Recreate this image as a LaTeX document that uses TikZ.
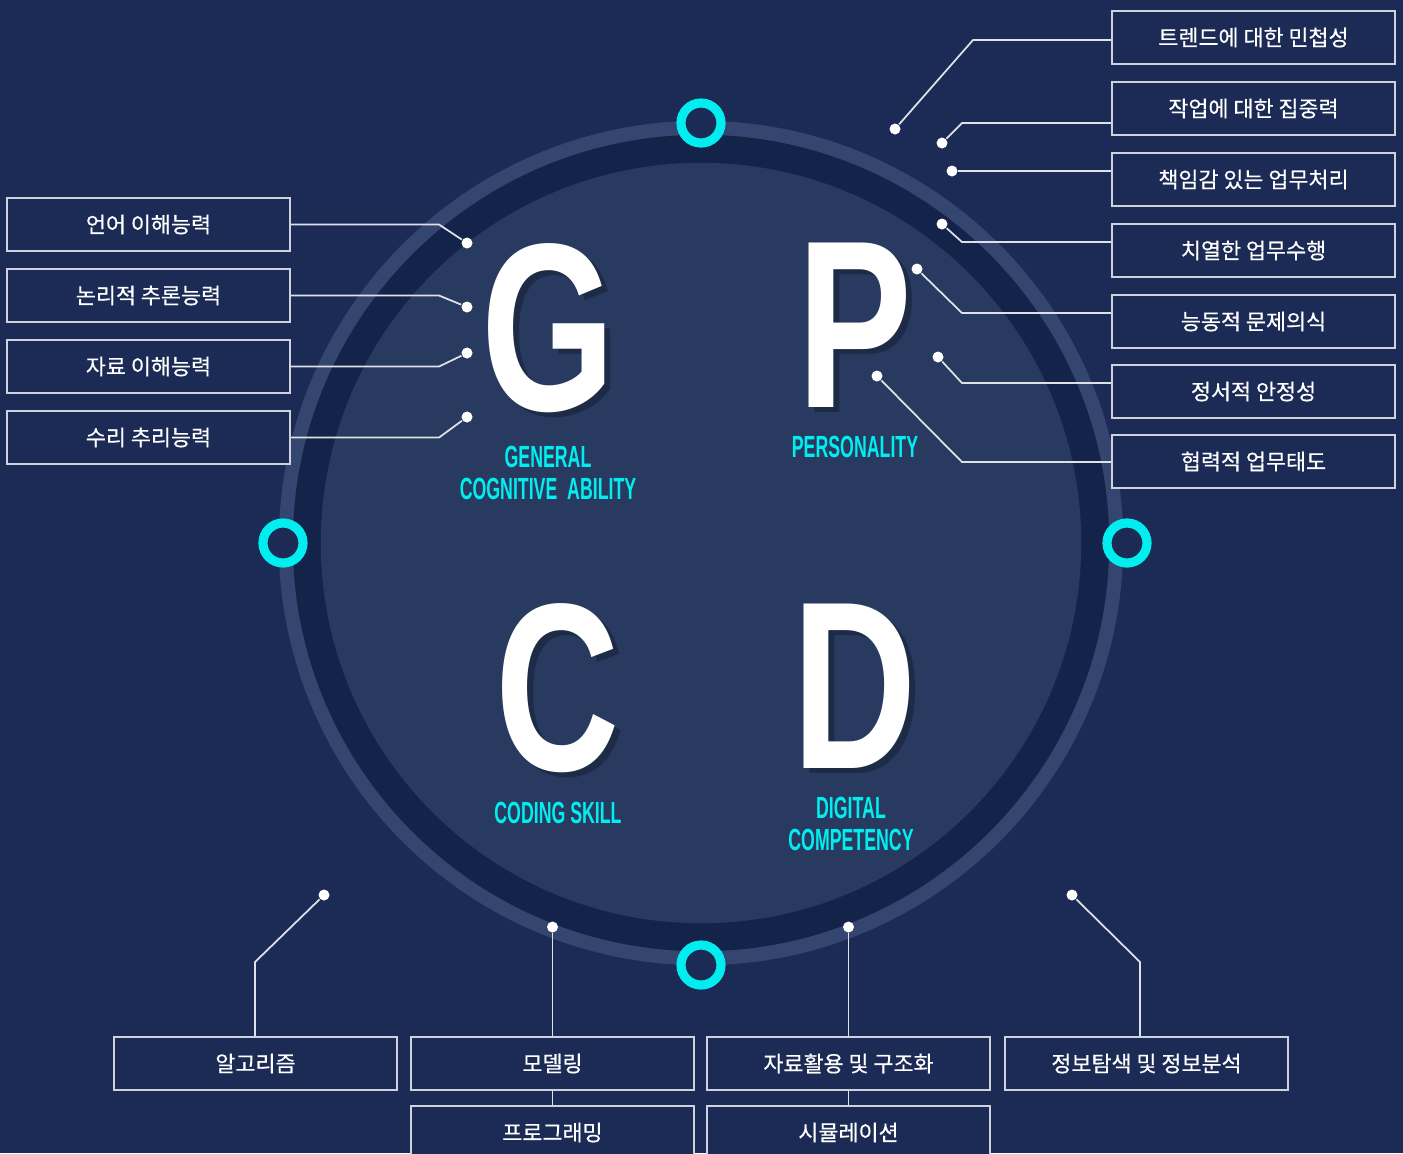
\documentclass[tikz,border=0pt]{standalone}
\usepackage{fontspec,graphicx}
\setmainfont{Liberation Sans}
\newfontfamily\kr[FakeBold=0.5]{Noto Sans CJK KR}
\newcommand\slim[1]{\scalebox{0.58}[1]{#1}}
\definecolor{bg}{RGB}{28,43,85}
\definecolor{halo}{RGB}{52,70,112}
\definecolor{band}{RGB}{20,35,74}
\definecolor{disc}{RGB}{40,58,95}
\definecolor{ring}{RGB}{0,238,240}
\definecolor{edge}{RGB}{205,210,222}
\definecolor{wirec}{RGB}{222,225,232}
\begin{document}
\begin{tikzpicture}[x=0.01cm, y=-0.01cm,
  item/.style={draw=edge, line width=0.55pt, fill=bg, minimum width=2.83cm, minimum height=0.53cm,
    inner sep=0pt, text=white, font=\kr\fontsize{6.2}{7}\selectfont},
  wire/.style={draw=wirec, line width=0.5pt},
  endpt/.style={circle, fill=white, minimum size=0.11cm, inner sep=0pt},
  hoop/.style={circle, draw=ring, line width=2.6pt, fill=bg, minimum size=0.4cm, inner sep=0pt},
  bigletter/.style={inner sep=0pt, font=\bfseries\fontsize{68}{68}\selectfont},
  tag/.style={inner sep=0pt, text=ring, align=center, font=\bfseries\fontsize{8.7}{9.2}\selectfont}]
\useasboundingbox[fill=bg] (0,0) rectangle (1403,1153);

% circle
\fill[halo] (701,543) circle[radius=4.22cm];
\fill[band] (701,543) circle[radius=4.08cm];
\fill[disc] (701,543) circle[radius=3.80cm];
\node[hoop] (top) at (701,123) {};
\node[hoop] (left) at (283,543) {};
\node[hoop] (right) at (1127,543) {};
\node[hoop] (bottom) at (701,965) {};

% letters
\foreach \ch/\px/\py in {G/548/328, P/855/325, C/558/688, D/855/686}{
  \node[bigletter, text=black, opacity=0.25] at (\px+6,\py+5) {\scalebox{0.72}[1]{\ch}};
  \node[bigletter, text=white] (\ch) at (\px,\py) {\scalebox{0.72}[1]{\ch}};
}
\node[tag] (gca) at (548,473) {\slim{GENERAL}\\\slim{COGNITIVE~~ABILITY}};
\node[tag] (per) at (855,447) {\slim{PERSONALITY}};
\node[tag] (cod) at (558,813) {\slim{CODING SKILL}};
\node[tag] (dig) at (851,824) {\slim{DIGITAL}\\\slim{COMPETENCY}};

% left boxes
\node[item] (l1) at (148.5,224.5) {언어 이해능력};
\node[item] (l2) at (148.5,295.5) {논리적 추론능력};
\node[item] (l3) at (148.5,366.5) {자료 이해능력};
\node[item] (l4) at (148.5,437.5) {수리 추리능력};
\node[endpt] (gl1) at (467,243) {};
\node[endpt] (gl2) at (467,307) {};
\node[endpt] (gl3) at (467,353) {};
\node[endpt] (gl4) at (467,417) {};
\draw[wire] (l1.east) -- ++(148,0) -- (gl1);
\draw[wire] (l2.east) -- ++(148,0) -- (gl2);
\draw[wire] (l3.east) -- ++(148,0) -- (gl3);
\draw[wire] (l4.east) -- ++(148,0) -- (gl4);

% right boxes
\node[item] (r1) at (1253.5,37.5) {트렌드에 대한 민첩성};
\node[item] (r2) at (1253.5,108.5) {작업에 대한 집중력};
\node[item] (r3) at (1253.5,179.5) {책임감 있는 업무처리};
\node[item] (r4) at (1253.5,250.5) {치열한 업무수행};
\node[item] (r5) at (1253.5,321.5) {능동적 문제의식};
\node[item] (r6) at (1253.5,391.5) {정서적 안정성};
\node[item] (r7) at (1253.5,461.5) {협력적 업무태도};
\node[endpt] (gr1) at (895,129) {};
\node[endpt] (gr2) at (942,143) {};
\node[endpt] (gr3) at (952,171) {};
\node[endpt] (gr4) at (942,224) {};
\node[endpt] (gr5) at (917,269) {};
\node[endpt] (gr6) at (938,357) {};
\node[endpt] (gr7) at (877,376) {};
\coordinate (kr1) at (973,40);
\coordinate (kr2) at (962,123);
\coordinate (kr4) at (962,242);
\coordinate (kr5) at (962,313);
\coordinate (kr6) at (962,383);
\coordinate (kr7) at (962,462);
\draw[wire] (r1.west |- kr1) -- (kr1) -- (gr1);
\draw[wire] (r2.west |- kr2) -- (kr2) -- (gr2);
\draw[wire] (r3.west |- gr3) -- (gr3);
\draw[wire] (r4.west |- kr4) -- (kr4) -- (gr4);
\draw[wire] (r5.west |- kr5) -- (kr5) -- (gr5);
\draw[wire] (r6.west |- kr6) -- (kr6) -- (gr6);
\draw[wire] (r7.west |- kr7) -- (kr7) -- (gr7);

% bottom boxes
\node[item] (b1) at (255.5,1063.5) {알고리즘};
\node[item] (b2) at (552.5,1063.5) {모델링};
\node[item] (b3) at (848.5,1063.5) {자료활용 및 구조화};
\node[item] (b4) at (1146.5,1063.5) {정보탐색 및 정보분석};
\node[item] (b2x) at (552.5,1132.5) {프로그래밍};
\node[item] (b3x) at (848.5,1132.5) {시뮬레이션};
\node[endpt] (gb1) at (324,895) {};
\node[endpt] (gb2) at (552.5,927) {};
\node[endpt] (gb3) at (848.5,927) {};
\node[endpt] (gb4) at (1072,895) {};
\coordinate (kb1) at (255,962);
\coordinate (kb4) at (1140,962);
\draw[wire] (b1.north -| kb1) -- (kb1) -- (gb1);
\draw[wire] (b2.north) -- (gb2);
\draw[wire] (b3.north) -- (gb3);
\draw[wire] (b4.north -| kb4) -- (kb4) -- (gb4);
\draw[wire] (b2.south) -- (b2x.north);
\draw[wire] (b3.south) -- (b3x.north);
\end{tikzpicture}
\end{document}
